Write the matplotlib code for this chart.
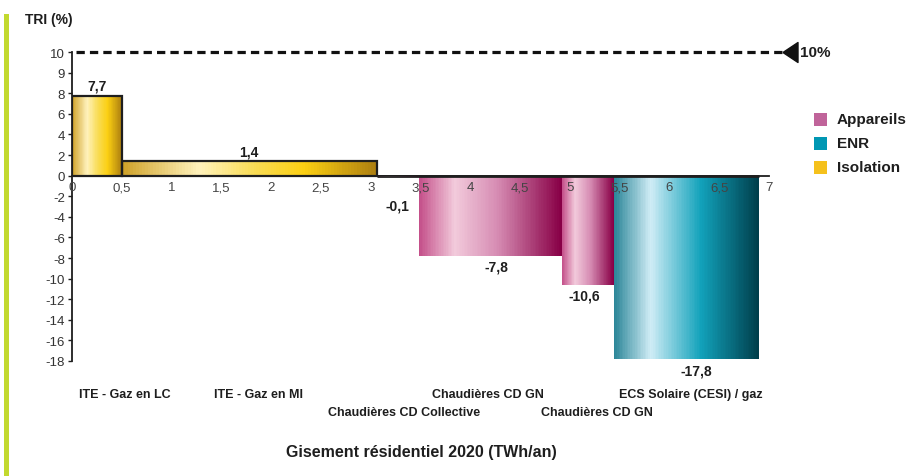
import numpy as np
import matplotlib
matplotlib.use("Agg")
import matplotlib.pyplot as plt
from matplotlib.colors import LinearSegmentedColormap
from matplotlib.patches import Rectangle

plt.rcParams['font.family'] = ['Liberation Sans', 'DejaVu Sans']

# ---------------- data ----------------
measures = ["ITE - Gaz en LC", "ITE - Gaz en MI", "Chaudières CD Collective",
            "Chaudières CD GN", "Chaudières CD GN", "ECS Solaire (CESI) / gaz"]
groups = ["Isolation", "Isolation", "Appareils", "Appareils", "Appareils", "ENR"]
gisement = [0.50, 2.56, 0.42, 1.44, 0.52, 1.46]       # TWh/an (bar widths)
tri = [7.7, 1.4, -0.1, -7.8, -10.6, -17.8]            # TRI (%)
value_labels = ["7,7", "1,4", "-0,1", "-7,8", "-10,6", "-17,8"]
threshold = 10
threshold_label = "10%"
y_ticks = [-18, -16, -14, -12, -10, -8, -6, -4, -2, 0, 2, 4, 6, 8, 9, 10]
x_ticks = [0, 0.5, 1, 1.5, 2, 2.5, 3, 3.5, 4, 4.5, 5, 5.5, 6, 6.5, 7]
legend_order = ["Appareils", "ENR", "Isolation"]

# ---------------- layout / style ----------------
label_x = [0.53, 1.87, 3.33, 4.18, 5.27, 6.21]
label_row_y = [-0.107, -0.107, -0.165, -0.107, -0.165, -0.107]
value_offset_px = [11, 10, 29, 11, 11, 12]
value_dx = [0, 0, 0, 0.06, -0.03, 0.1]

cmaps = {
    "Isolation": LinearSegmentedColormap.from_list(
        "iso", [(0, "#CFA22A"), (0.3, "#FFF2BC"), (0.52, "#F9DC55"),
                (0.72, "#FBCF12"), (1, "#AE8010")]),
    "Appareils": LinearSegmentedColormap.from_list(
        "app", [(0, "#C4508A"), (0.25, "#F2CADB"), (0.55, "#D68CB3"),
                (1, "#880046")]),
    "ENR": LinearSegmentedColormap.from_list(
        "enr", [(0, "#2D8799"), (0.25, "#CFECF5"), (0.6, "#12A2BB"),
                (1, "#003F4C")]),
}
legend_colors = {"Appareils": "#C0649A", "ENR": "#0097B3", "Isolation": "#F5C11C"}
dark = "#1E1E1E"

W, H = 911, 477
fig = plt.figure(figsize=(W / 100, H / 100), dpi=100)
ax = fig.add_axes([72 / W, (H - 362) / H, 697 / W, 309 / H])


def fwd(y):
    y = np.asarray(y, dtype=float)
    return np.where(y <= 8, y, 8 + 2 * (y - 8))


def inv(z):
    z = np.asarray(z, dtype=float)
    return np.where(z <= 8, z, 8 + (z - 8) / 2)


ax.set_yscale("function", functions=(fwd, inv))
ax.set_xlim(0, 7)
ax.set_ylim(-18, 10)
ax.set_axisbelow(False)

# ---------------- bars ----------------
x0 = 0.0
starts = []
for w, h, g in zip(gisement, tri, groups):
    starts.append(x0)
    edges = np.linspace(x0, x0 + w, 90)
    C = np.linspace(0, 1, len(edges) - 1)[None, :]
    zo = 1.2 if abs(h) < 0.5 else 1
    ax.pcolormesh(edges, [min(0, h), max(0, h)], C, cmap=cmaps[g], vmin=0, vmax=1,
                  shading="flat", antialiased=False, zorder=zo)
    if g == "Isolation":
        ax.add_patch(Rectangle((x0, 0), w, h, fill=False, ec=dark, lw=1.6,
                               joinstyle="miter", zorder=3))
    x0 += w

# thick zero line over the negative bars
neg_start = starts[2]
ax.plot([neg_start, x0], [0, 0], color=dark, lw=2.0, solid_capstyle="butt", zorder=1.1)

# value labels
for i, (s, w, h, lbl) in enumerate(zip(starts, gisement, tri, value_labels)):
    off = value_offset_px[i] * 0.72 * (1 if h > 0 else -1)
    ax.annotate(lbl, (s + w / 2 + value_dx[i], h), xytext=(0, off),
                textcoords="offset points", ha="center", va="center",
                fontsize=10, fontweight="bold", color=dark, zorder=5)

# category labels
for lx, ly, m in zip(label_x, label_row_y, measures):
    ax.text(lx, ly, m, transform=ax.get_xaxis_transform(), ha="center", va="center",
            fontsize=9, fontweight="bold", color=dark, clip_on=False)

# threshold line with arrow
ax.plot([0.04, 7.14], [threshold, threshold], color="#111111", lw=2.3,
        dashes=(2.6, 1.6), clip_on=False, zorder=4)
tri_marker = [(-0.75, 0), (0.75, 1), (0.75, -1), (-0.75, 0)]
ax.plot([7.21], [threshold], marker=tri_marker, ms=14.4, color="#111111",
        mec="#111111", clip_on=False, zorder=4)
ax.text(7.31, threshold, threshold_label, va="center", ha="left", fontsize=11,
        fontweight="bold", color=dark, clip_on=False)

# ---------------- axes styling ----------------
for sp in ["top", "right"]:
    ax.spines[sp].set_visible(False)
ax.spines["left"].set_bounds(-18, 10)
ax.spines["left"].set_linewidth(1.3)
ax.spines["left"].set_color(dark)
ax.spines["bottom"].set_position(("data", 0))
ax.spines["bottom"].set_linewidth(1.3)
ax.spines["bottom"].set_color(dark)

ax.set_yticks(y_ticks)
ax.set_yticklabels([str(t) for t in y_ticks])
ax.set_xticks(x_ticks)
ax.set_xticklabels([("%g" % t).replace(".", ",") for t in x_ticks])
ax.tick_params(axis="y", direction="out", length=3, width=1, pad=2,
               labelsize=9.5, labelcolor="#333333", color=dark)
ax.tick_params(axis="x", length=0, pad=4, labelsize=9.5, labelcolor="#444444")

# ---------------- figure decorations ----------------
fig.add_artist(Rectangle((4 / W, 0), 4.5 / W, (H - 15) / H, transform=fig.transFigure,
                         color="#C2D92F", lw=0))
fig.text(25 / W, 1 - 20 / H, "TRI (%)", fontsize=10, fontweight="bold",
         va="center", ha="left", color=dark)
fig.text(421 / W, 1 - 453 / H, "Gisement résidentiel 2020 (TWh/an)", fontsize=11.5,
         fontweight="bold", ha="center", va="center", color=dark)

for i, name in enumerate(legend_order):
    yc = 120 + 24 * i
    fig.add_artist(Rectangle((814 / W, 1 - (yc + 6.5) / H), 13 / W, 13 / H,
                             transform=fig.transFigure, color=legend_colors[name], lw=0))
    fig.text(837 / W, 1 - yc / H, name, fontsize=11, fontweight="bold",
             va="center", ha="left", color=dark)

fig.savefig("out.png", dpi=100)
